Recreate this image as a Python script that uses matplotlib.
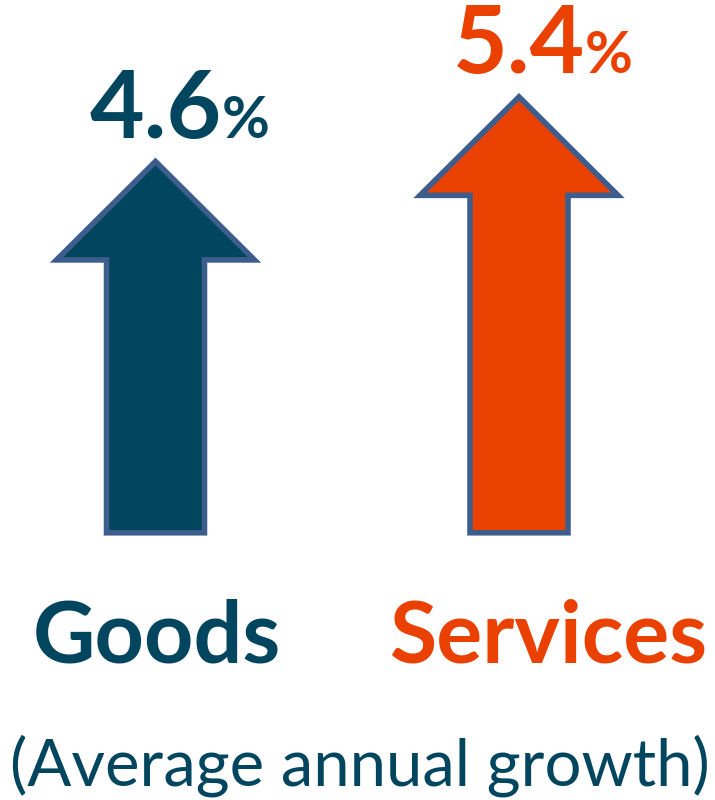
import matplotlib.pyplot as plt
from matplotlib.patches import Polygon

# growth figures
categories = ["Goods", "Services"]
growth = [4.6, 5.4]
colors = ["#02455E", "#EA4000"]
subtitle = "(Average annual growth)"

EDGE = "#3D5E8C"
FONT = "Lato"

plt.rcParams["font.family"] = [FONT, "DejaVu Sans"]

fig = plt.figure(figsize=(7.15, 8), dpi=100)
ax = fig.add_axes([0, 0, 1, 1])
ax.set_xlim(0, 715)
ax.set_ylim(-3.31, 6.60)
ax.axis("off")

centers = [155.5, 519]
shaft_w = 98
head_w = 198
head_len = 1.22


def arrow_points(cx, v):
    base = v - head_len
    return [
        (cx - shaft_w / 2, 0), (cx + shaft_w / 2, 0),
        (cx + shaft_w / 2, base), (cx + head_w / 2, base),
        (cx, v),
        (cx - head_w / 2, base), (cx - shaft_w / 2, base),
    ]


for cx, v, c in zip(centers, growth, colors):
    ax.add_patch(Polygon(arrow_points(cx, v), closed=True, facecolor=c,
                         edgecolor=EDGE, linewidth=4, joinstyle="miter"))
    num = ax.text(cx, v + 0.29, f"{v:.1f}", ha="center", va="baseline",
                  fontsize=68, fontweight="bold", color=c)
    ax.annotate("%", xy=(1, v + 0.29), xycoords=(num, "data"),
                ha="left", va="baseline", fontsize=42, fontweight="bold",
                color=c)

label_x = [157, 548]
for x, name, c in zip(label_x, categories, colors):
    ax.text(x, -1.61, name, ha="center", va="baseline", fontsize=62,
            fontweight="bold", color=c)

ax.text(360, -3.13, subtitle, ha="center", va="baseline", fontsize=47,
        color=colors[0])

fig.savefig("out.png", dpi=100)
